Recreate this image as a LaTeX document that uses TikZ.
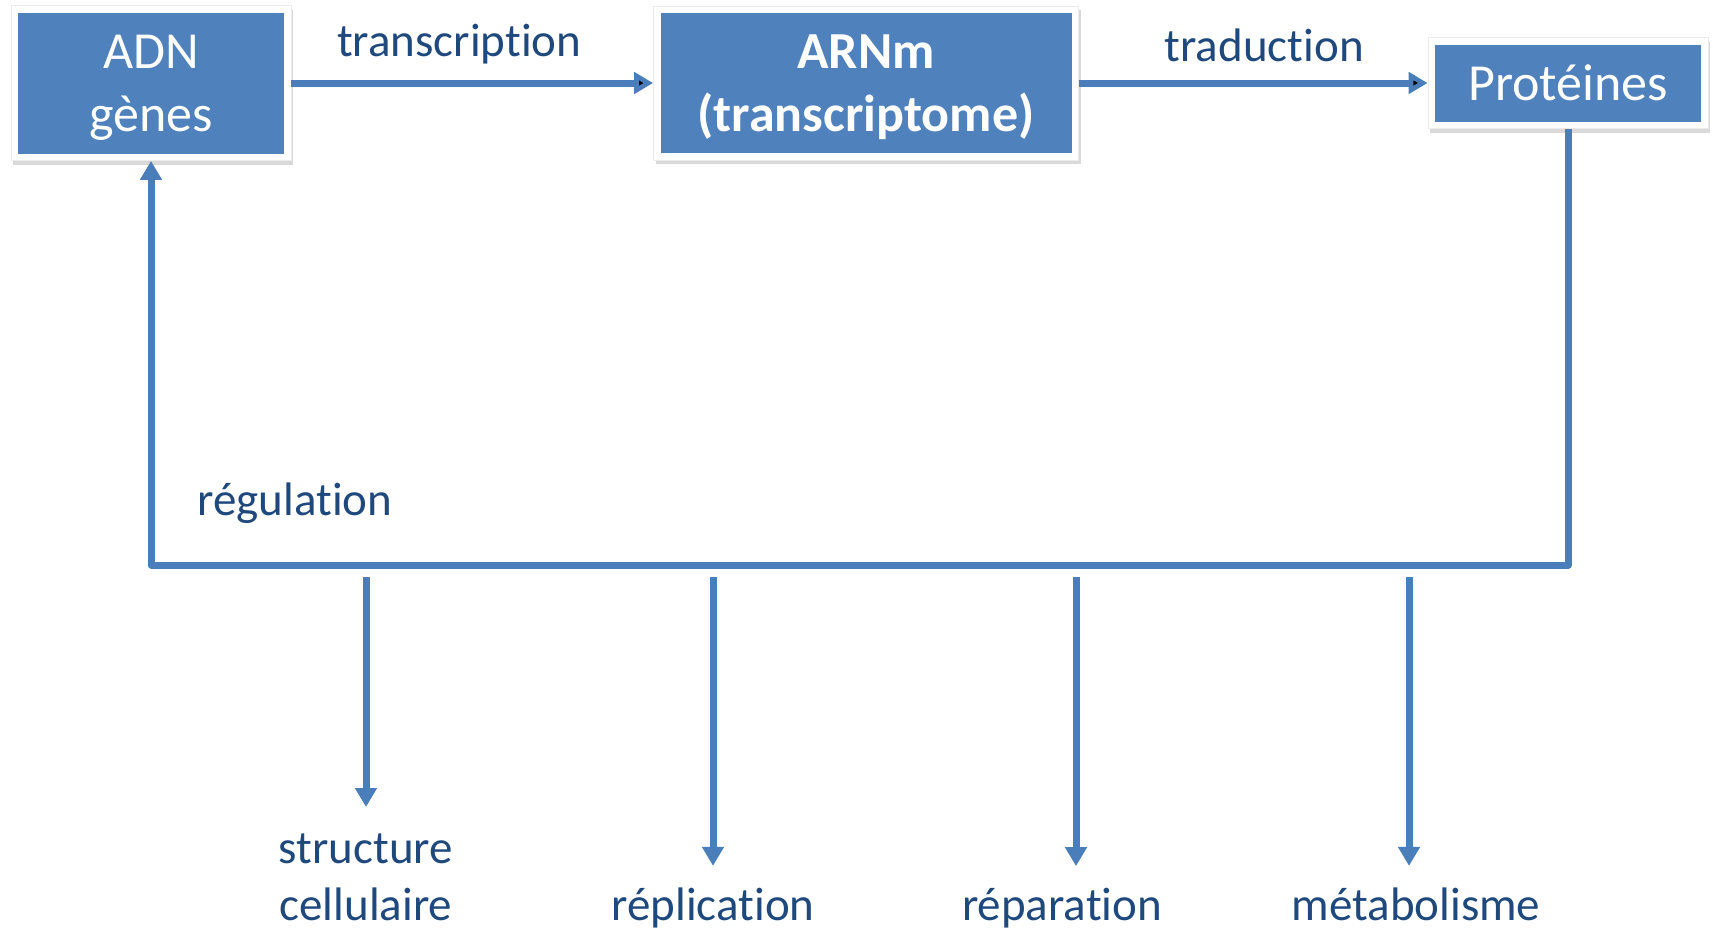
\documentclass[tikz,border=0pt]{standalone}
\usepackage{fontspec}
\setmainfont{Carlito}[Ligatures=NoCommon]
\usepackage{tikz}
\usetikzlibrary{arrows.meta, positioning, shadows}

\definecolor{boxblue}{HTML}{4F81BD}
\definecolor{flowblue}{HTML}{4A7EBB}
\definecolor{txtblue}{HTML}{1F497D}

\tikzset{
  genebox/.style={rectangle, fill=white, draw=black!8, line width=0.8pt,
    drop shadow={shadow xshift=2pt, shadow yshift=-4pt, opacity=.3},
    path picture={\fill[boxblue] ([shift={(7pt,-7pt)}]path picture bounding box.north west)
      rectangle ([shift={(-7pt,7pt)}]path picture bounding box.south east);},
    text=white, align=center, text depth=0pt, font=\fontsize{52}{63}\selectfont},
  flow/.style={draw=flowblue, line width=7pt, line join=round},
  lbl/.style={text=txtblue, align=center, font=\fontsize{47}{57}\selectfont}
}

\begin{document}
\begin{tikzpicture}[x=1pt, y=-1pt, >={Triangle[length=19pt,width=21pt]}, on grid]
  \useasboundingbox (0,0) rectangle (1713,930);
  \node[genebox, minimum width=280pt, minimum height=155pt] (adn) at (151,83) {ADN\\gènes};
  \node[genebox, minimum width=425pt, minimum height=154pt] (arnm) [right=715pt of adn] {\bfseries ARNm\\\bfseries(transcriptome)};
  \node[genebox, minimum width=280pt, minimum height=91pt] (prot) [right=702pt of arnm] {Protéines};

  \path[flow,->]
    (adn) edge node[lbl, above=12pt, xshift=-13pt] {transcription} (arnm)
    (arnm) edge node[lbl, above=14pt, xshift=11pt] {traduction} (prot);

  % boucle de regulation
  \coordinate (busR) at (1568,565);
  \coordinate (busL) at (151,565);
  \draw[flow,->] (prot.south) -- (busR) -- (busL) -- (adn.south);
  \node[lbl, anchor=base west] (reg) at (194,515) {régulation};

  % fonctions des proteines
  \node[lbl] (struct) at (366,877) {structure\\cellulaire};
  \node[lbl, anchor=base] (repl) at (713,920) {réplication};
  \node[lbl, anchor=base] (repa) at (1062,920) {réparation};
  \node[lbl, anchor=base] (meta) at (1416,920) {métabolisme};
  \coordinate (t1) at (366,577);
  \coordinate (t2) at (713,577);
  \coordinate (t3) at (1076,577);
  \coordinate (t4) at (1409,577);
  \draw[flow,->] (t1) -- (t1 |- 0,807);
  \draw[flow,->,shorten >=18pt] (t2) -- (t2 |- repl.north);
  \draw[flow,->,shorten >=18pt] (t3) -- (t3 |- repa.north);
  \draw[flow,->,shorten >=18pt] (t4) -- (t4 |- meta.north);
\end{tikzpicture}
\end{document}
